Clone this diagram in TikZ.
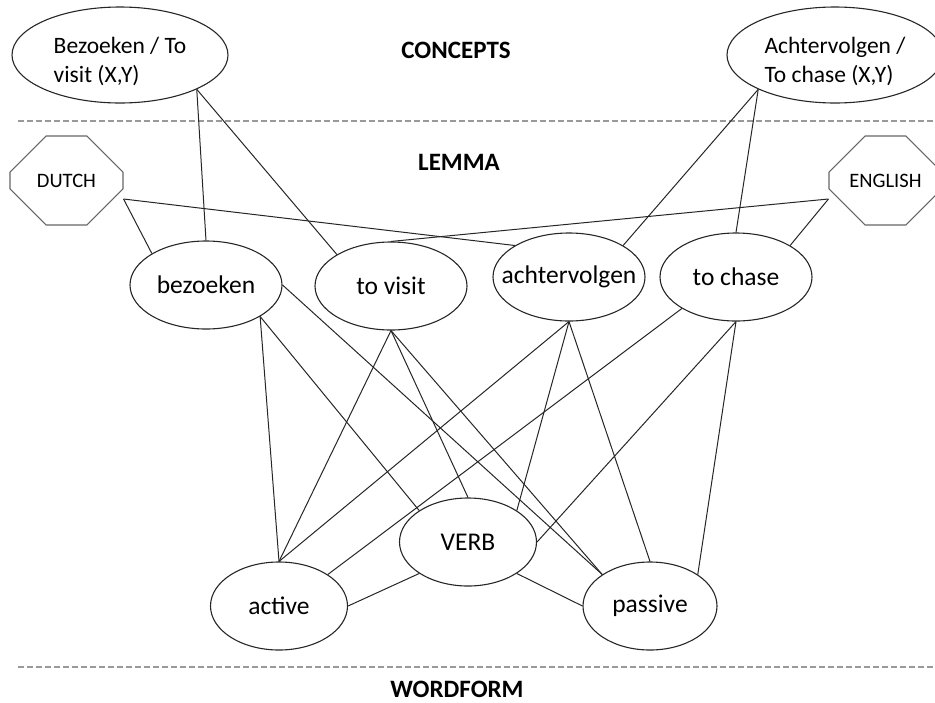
\documentclass[tikz,border=0pt]{standalone}
\usepackage{fontspec}
\setmainfont{Carlito}
\usetikzlibrary{shapes.geometric,shapes.misc}

\begin{document}
\begin{tikzpicture}[x=1pt,y=-1pt,line width=1pt,draw=black!85]
	\tikzstyle{concept}=[ellipse,draw,line width=1.1pt,minimum width=216pt,minimum height=96pt,inner sep=1pt,align=left,text height=58pt,font=\fontsize{23.5}{29}\selectfont]
	\tikzstyle{lemma}=[ellipse,draw,line width=1.1pt,minimum width=152pt,minimum height=88pt,inner sep=0pt,font=\fontsize{25.5}{30}\selectfont]
	\tikzstyle{wordform}=[lemma,minimum width=137pt]
	\tikzstyle{language}=[chamfered rectangle,draw=black!60,line width=1.1pt,minimum width=113pt,minimum height=89pt,chamfered rectangle xsep=26pt,chamfered rectangle ysep=26pt,font=\fontsize{20.5}{24}\selectfont]
	\tikzstyle{level}=[font=\fontsize{25}{30}\selectfont\bfseries]
	\tikzstyle{divider}=[draw=black!40,line width=1.6pt,dash pattern=on 6pt off 3pt]

	\useasboundingbox (0,0) rectangle (935,702);

	% Level names and dividers
	\node[level] (concepts) at (456,50) {CONCEPTS};
	\node[level] (lemmas) at (459,162) {LEMMA};
	\node[level] (wordforms) at (457,689) {WORDFORM};
	\draw[divider] (18,121) -- (935,121);
	\draw[divider] (18,667) -- (935,667);

	% Draw concept nodes
	\node[concept] (C-visit) at (120,55) {Bezoeken / To\\visit (X,Y)};
	\node[concept] (C-chase) at (835,55) {Achtervolgen /\\To chase (X,Y)};

	% Draw language nodes
	\node[language] (dutch) at (66.5,180.5) {DUTCH};
	\node[language] (english) at (885.5,180.5) {ENGLISH};
	\coordinate (dutch-port) at ([yshift=-18.5pt]dutch.east);
	\coordinate (english-port) at ([yshift=-18.5pt]english.west);

	% Draw lemma nodes
	\node[lemma] (bezoeken) at (206,285) {bezoeken};
	\node[lemma] (tovisit) at (391,286) {to visit};
	\node[lemma] (achtervolgen) at (569,277) {\makebox[0pt]{achtervolgen}};
	\node[lemma] (tochase) at (736,277) {to chase};

	% Draw wordform nodes
	\node[wordform] (verb) at (468,542) {VERB};
	\node[wordform] (active) at (279,606) {active};
	\node[wordform,minimum width=134pt] (passive) at (650,606) {passive};

	% Connect concepts and lemmas
	\foreach \source/\dest in {C-visit.south east/bezoeken.north,
		C-visit.south east/tovisit.north west,
		C-chase.south west/achtervolgen.north east,
		C-chase.south west/tochase.north}
	\draw (\source) -- (\dest);

	% Connect languages and lemmas
	\foreach \source/\dest in {dutch-port/bezoeken.north west,
		dutch-port/achtervolgen.north west,
		english-port/tovisit.north,
		english-port/tochase.north east}
	\draw (\source) -- (\dest);

	% Connect lemmas and wordforms
	\foreach \source/\dest in {bezoeken.south east/active.north,
		bezoeken.south east/verb.north west,
		bezoeken.east/passive.north west,
		tovisit.south/active.north,
		tovisit.south/verb.north,
		tovisit.south/passive.north west,
		achtervolgen.south/active.north,
		achtervolgen.south/verb.north east,
		achtervolgen.south/passive.north,
		tochase.south west/active.north east,
		tochase.south/verb.east,
		tochase.south/passive.north east}
	\draw (\source) -- (\dest);

	% Connect VERB with active and passive
	\draw (verb.south west) -- (active.east);
	\draw (verb.south east) -- (passive.west);
\end{tikzpicture}
\end{document}
